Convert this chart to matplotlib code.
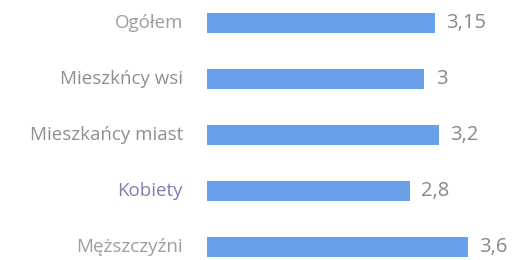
import matplotlib
matplotlib.use("Agg")
import matplotlib.pyplot as plt

kategorie = ["Ogółem", "Mieszkńcy wsi", "Mieszkańcy miast", "Kobiety", "Męższczyźni"]
wartosci = [3.15, 3.0, 3.2, 2.8, 3.6]
etykiety = ["3,15", "3", "3,2", "2,8", "3,6"]
kolory_tekstu = ["#9d9d9d", "#8f8f8f", "#8f8f8f", "#7e7eb2", "#9d9d9d"]

plt.rcParams['font.family'] = ['Open Sans', 'DejaVu Sans']

fig = plt.figure(figsize=(5.16, 2.6), dpi=100)
ax = fig.add_axes([207 / 516, 0, 309 / 516, 1])

pozycje = list(range(len(kategorie)))
ax.barh(pozycje, wartosci, height=0.36, color="#68a0ea")

for y, v, t in zip(pozycje, wartosci, etykiety):
    ax.text(v + 0.16, y, t, va="center", ha="left", fontsize=14.5, color="#888888")

for y, k, c in zip(pozycje, kategorie, kolory_tekstu):
    ax.text(-0.33, y, k, va="center", ha="right", fontsize=13.5, color=c, clip_on=False)

ax.set_xlim(0, 4.27)
ax.set_ylim(4.23, -0.41)
ax.axis("off")

fig.savefig("out.png", dpi=100)
